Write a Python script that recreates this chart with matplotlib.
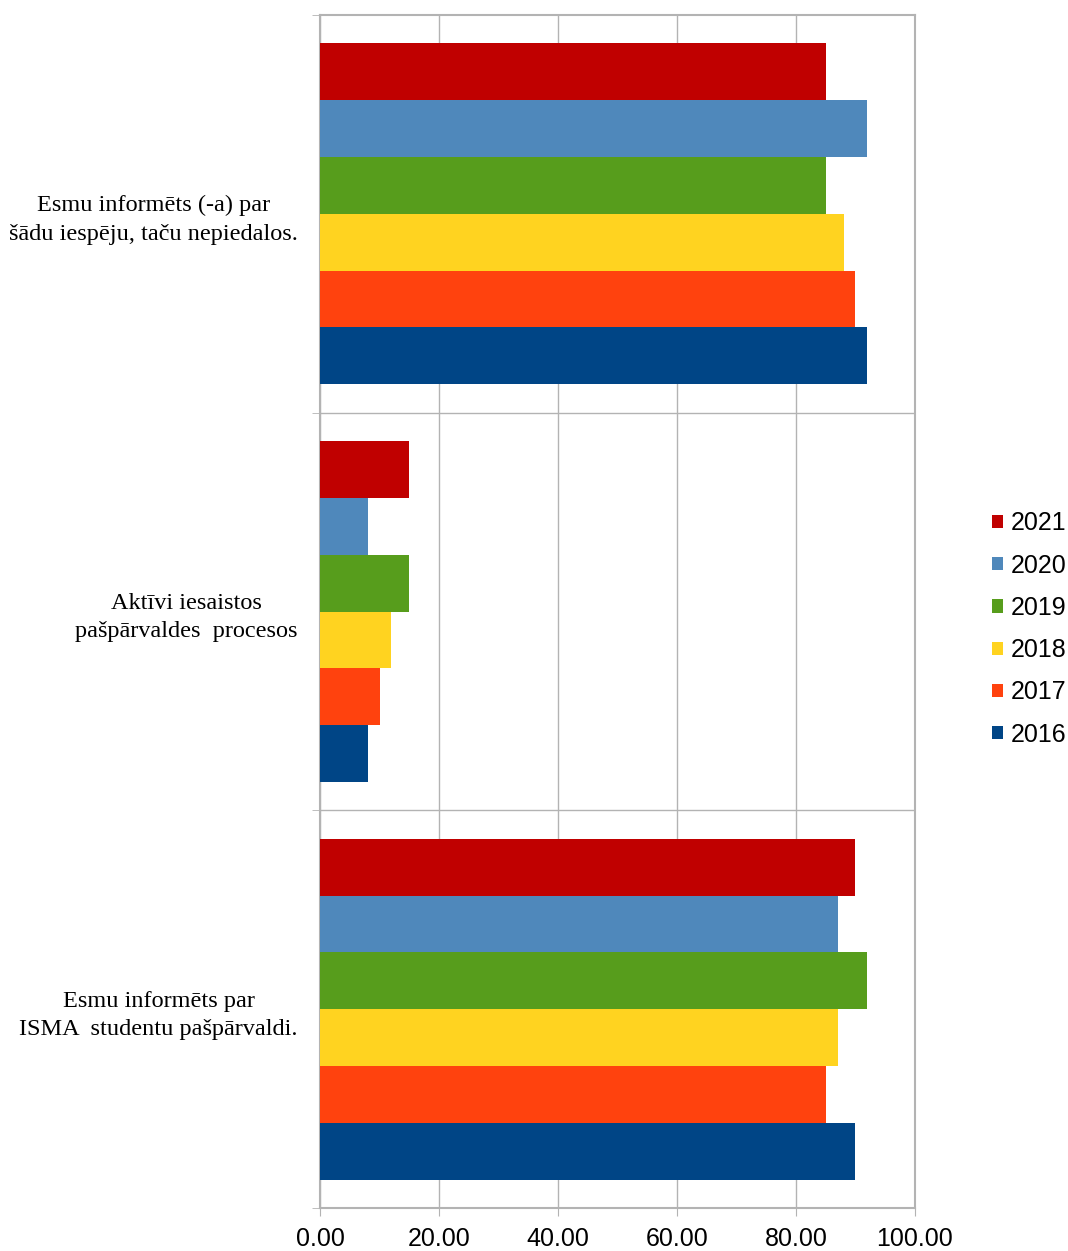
import numpy as np
import matplotlib.pyplot as plt
from matplotlib.patches import Patch

# categories, bottom to top (Excel order)
categories = ["Esmu informēts par\nISMA  studentu pašpārvaldi.",
              "Aktīvi iesaistos\npašpārvaldes  procesos",
              "Esmu informēts (-a) par\nšādu iespēju, taču nepiedalos."]
years = ["2016", "2017", "2018", "2019", "2020", "2021"]

v2016 = [90, 8, 92]
v2017 = [85, 10, 90]
v2018 = [87, 12, 88]
v2019 = [92, 15, 85]
v2020 = [87, 8, 92]
v2021 = [90, 15, 85]
values = [v2016, v2017, v2018, v2019, v2020, v2021]

colors = ["#004586", "#FF420E", "#FFD320", "#579D1C", "#4F88BB", "#C00000"]

xticks = [0, 20, 40, 60, 80, 100]

fig = plt.figure(figsize=(10.68, 12.51), dpi=100)
ax = fig.add_axes([320/1068, 1 - 1208/1251, 595/1068, 1193/1251])

y = np.arange(len(categories))
h = 1 / 7
for i, (yr, vals) in enumerate(zip(years, values)):
    ax.barh(y + (i - 2.5) * h, vals, height=h, color=colors[i], zorder=3)

ax.set_xlim(0, 100)
ax.set_ylim(-0.5, 2.5)

grid_c = "#b3b3b3"
ax.set_xticks(xticks)
ax.set_xticklabels([f"{t:.2f}" for t in xticks], fontsize=18,
                   family="Liberation Sans")
ax.tick_params(axis="x", length=6, color=grid_c, pad=8)
ax.grid(axis="x", color=grid_c, lw=1, zorder=0)

ax.set_yticks(y)
ax.set_yticklabels(categories, fontsize=17.5, family="Liberation Serif",
                   multialignment="center", linespacing=1.45)
ax.tick_params(axis="y", length=0, pad=16)
ax.set_yticks([-0.5, 0.5, 1.5, 2.5], minor=True)
ax.tick_params(axis="y", which="minor", length=6, color=grid_c)
for yy in [0.5, 1.5]:
    ax.axhline(yy, color=grid_c, lw=1, zorder=0)

for s in ax.spines.values():
    s.set_color(grid_c)
    s.set_linewidth(1.5)

handles = [Patch(facecolor=colors[i], label=years[i]) for i in range(5, -1, -1)]
fig.legend(handles=handles, loc="center left", bbox_to_anchor=(969/1068, 1 - 629/1251),
           frameon=False, prop={"family": "Liberation Sans", "size": 18},
           handlelength=0.45, handleheight=0.45, handletextpad=0.3, labelspacing=0.73)

fig.savefig("out.png", dpi=100, facecolor="white")
